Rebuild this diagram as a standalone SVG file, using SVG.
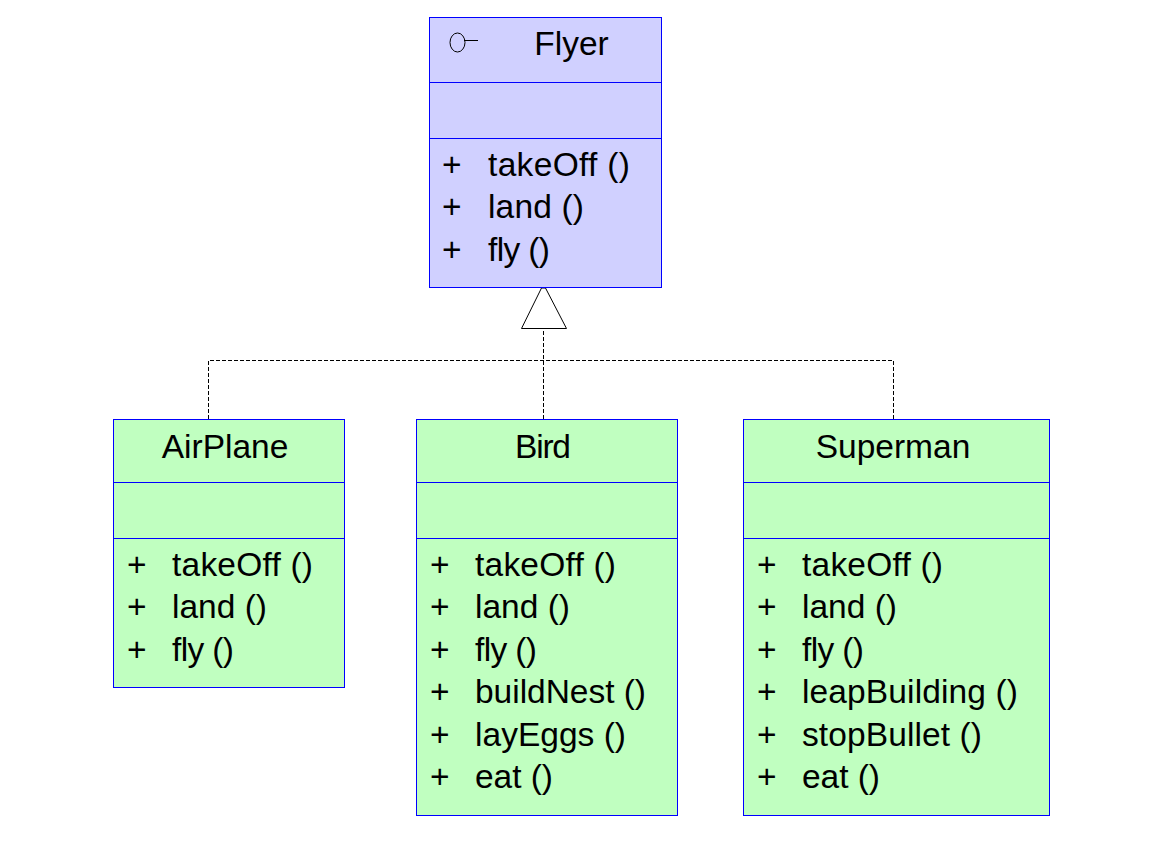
<svg xmlns="http://www.w3.org/2000/svg" width="1160" height="860" viewBox="0 0 1160 860">
<style>
.b{fill:#c0ffc0;stroke:#0000ff;stroke-width:1}
.i{fill:#d0d0ff;stroke:#0000ff;stroke-width:1}
.l{stroke:#0000ff;stroke-width:1;fill:none}
text{font-family:"Liberation Sans",Arial,sans-serif;font-size:33.500px;fill:#000}
.m{text-anchor:middle}
.c{fill:none;stroke:#000;stroke-width:1;stroke-dasharray:4 2}
</style>
<rect width="1160" height="860" fill="#fff"/>
<g id="connectors">
<path class="c" d="M208.500 419V360.500H893.500V419M543.500 419V329"/>
<polygon points="541.500,288 545.500,288 566.500,328.500 521.500,328.500" fill="#fff" stroke="#000"/>
</g>
<g id="Flyer">
<rect class="i" x="429.500" y="17.500" width="232" height="270"/>
<path class="l" d="M430 82.500H661M430 138.500H661"/>
<ellipse cx="457.500" cy="42.500" rx="7.500" ry="9.500" fill="none" stroke="#000"/>
<path d="M464 40.500H478" stroke="#000" fill="none"/>
<text x="571.500" y="55" class="m">Flyer</text>
<text x="442" y="176">+</text><text x="488" y="176" textLength="142">takeOff ()</text>
<text x="442" y="218">+</text><text x="488" y="218" textLength="96">land ()</text>
<text x="442" y="261">+</text><text x="488" y="261" textLength="62">fly ()</text>
</g>
<g id="AirPlane">
<rect class="b" x="113.500" y="419.500" width="231" height="268"/>
<path class="l" d="M114 482.500H344M114 538.500H344"/>
<text x="225" y="458" class="m">AirPlane</text>
<text x="127" y="576">+</text><text x="172" y="576" textLength="141">takeOff ()</text>
<text x="127" y="618">+</text><text x="172" y="618" textLength="95">land ()</text>
<text x="127" y="661">+</text><text x="172" y="661" textLength="62">fly ()</text>
</g>
<g id="Bird">
<rect class="b" x="416.500" y="419.500" width="261" height="396"/>
<path class="l" d="M417 482.500H677M417 538.500H677"/>
<text x="543" y="458" class="m" textLength="56">Bird</text>
<text x="430" y="576">+</text><text x="475" y="576" textLength="141">takeOff ()</text>
<text x="430" y="618">+</text><text x="475" y="618" textLength="95">land ()</text>
<text x="430" y="661">+</text><text x="475" y="661" textLength="62">fly ()</text>
<text x="430" y="703">+</text><text x="475" y="703" textLength="171">buildNest ()</text>
<text x="430" y="746">+</text><text x="475" y="746" textLength="151">layEggs ()</text>
<text x="430" y="788">+</text><text x="475" y="788" textLength="78">eat ()</text>
</g>
<g id="Superman">
<rect class="b" x="743.500" y="419.500" width="306" height="396"/>
<path class="l" d="M744 482.500H1049M744 538.500H1049"/>
<text x="893" y="458" class="m">Superman</text>
<text x="757" y="576">+</text><text x="802" y="576" textLength="141">takeOff ()</text>
<text x="757" y="618">+</text><text x="802" y="618" textLength="95">land ()</text>
<text x="757" y="661">+</text><text x="802" y="661" textLength="62">fly ()</text>
<text x="757" y="703">+</text><text x="802" y="703" textLength="216">leapBuilding ()</text>
<text x="757" y="746">+</text><text x="802" y="746" textLength="180">stopBullet ()</text>
<text x="757" y="788">+</text><text x="802" y="788" textLength="78">eat ()</text>
</g>
</svg>
